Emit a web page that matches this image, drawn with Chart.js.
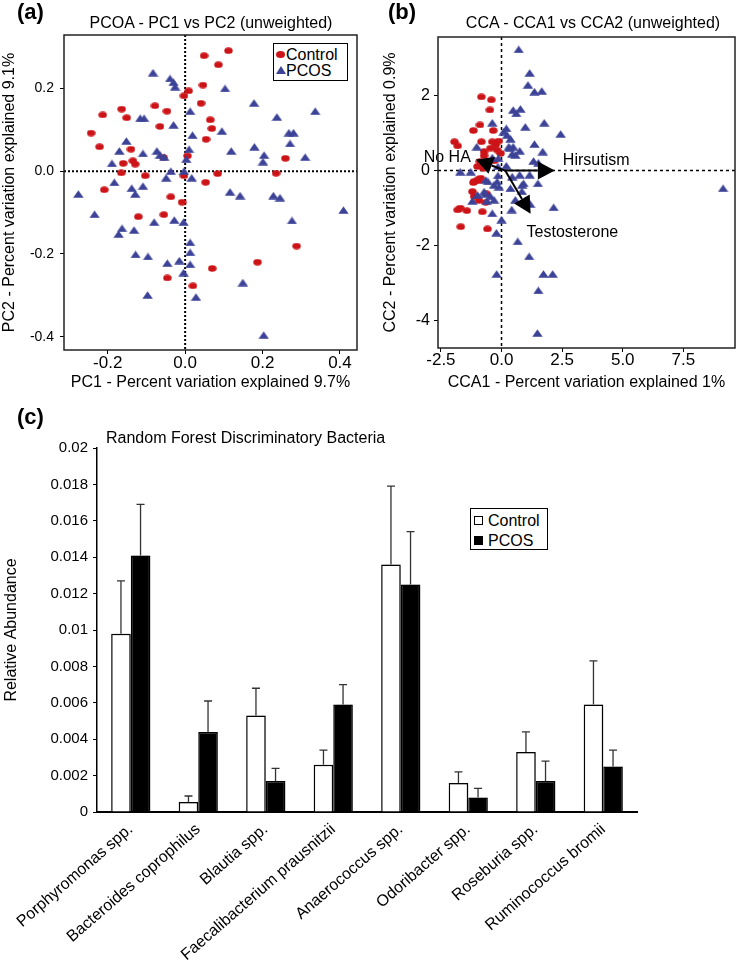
<!DOCTYPE html>
<html>
<head>
<meta charset="utf-8">
<title>PCOS gut microbiome figure</title>
<script src="https://cdn.jsdelivr.net/npm/chart.js@4.4.1/dist/chart.umd.min.js"></script>
<style>
  body { margin: 0; background: #fff; }
  #page { position: relative; width: 741px; height: 962px; overflow: hidden;
          font-family: 'Liberation Sans', Arial, sans-serif; color: #000; }
  canvas { position: absolute; }
  .txt { position: absolute; white-space: nowrap; }
  .panel { font-weight: bold; font-size: 22px; line-height: 22px; }
  .ttl { font-size: 16px; line-height: 20px; text-align: center; }
  .legend { position: absolute; box-sizing: border-box; border: 1.5px solid #000; background: #fff;
            font-size: 16px; line-height: 16px; }
  .legend span { position: absolute; white-space: nowrap; }
</style>
</head>
<body>
<div id="page">
  <canvas id="pcoa" style="left:0;top:0" width="370" height="395"></canvas>
  <canvas id="cca" style="left:370px;top:0" width="371" height="395"></canvas>
  <canvas id="forest" style="left:0;top:395px" width="741" height="567"></canvas>

  <div class="txt panel" style="left:17px;top:1px">(a)</div>
  <div class="txt panel" style="left:388px;top:1px">(b)</div>
  <div class="txt panel" style="left:17px;top:406px">(c)</div>

  <div class="txt ttl" style="left:60px;top:13px;width:302px">PCOA - PC1 vs PC2 (unweighted)</div>
  <div class="txt ttl" style="left:442px;top:13px;width:302px">CCA - CCA1 vs CCA2 (unweighted)</div>
  <div class="txt ttl" style="left:106px;top:428px;text-align:left">Random Forest Discriminatory Bacteria</div>

  <div class="legend" style="left:273px;top:43px;width:75px;height:38px">
    <span style="left:2px;top:7px;width:9px;height:7px;border-radius:50%;background:#cc1418"></span>
    <span style="left:12px;top:3px">Control</span>
    <span style="left:2px;top:22px;width:0;height:0;border-left:5px solid transparent;border-right:5px solid transparent;border-bottom:8px solid #3c4397"></span>
    <span style="left:12px;top:19px">PCOS</span>
  </div>

  <div class="legend" style="left:470px;top:508px;width:78px;height:42px">
    <span style="left:3px;top:7px;width:7px;height:7px;border:1px solid #000;background:#fff"></span>
    <span style="left:17px;top:4px">Control</span>
    <span style="left:3px;top:27px;width:9px;height:9px;background:#000"></span>
    <span style="left:17px;top:24px">PCOS</span>
  </div>
</div>

<script>
// Figure: (a) PCoA scatter, (b) CCA scatter with trait arrows, (c) random forest bar chart.

// ---- panel (a): PCoA coordinates [PC1, PC2]
const pcoaControl = [
  [0.112, 0.291], [0.049, 0.279], [0.086, 0.257], [0.046, 0.208], [0.009, 0.194], [-0.003, 0.182],
  [0.041, 0.164], [-0.078, 0.158], [-0.047, 0.145], [-0.164, 0.150], [-0.213, 0.136], [-0.151, 0.129],
  [0.065, 0.124], [-0.065, 0.108], [0.069, 0.103], [-0.243, 0.092], [0.054, 0.077], [-0.221, 0.059],
  [-0.140, 0.053], [-0.135, 0.025], [-0.160, 0.019], [-0.129, 0.017], [0.006, 0.037], [0.259, 0.031],
  [0.235, -0.005], [0.084, -0.006], [-0.003, -0.011], [-0.103, -0.011], [-0.165, -0.004], [0.053, -0.027],
  [-0.209, -0.045], [-0.056, 0.033], [-0.037, -0.062], [-0.008, -0.075], [-0.121, -0.110], [-0.055, -0.105],
  [0.288, -0.181], [0.187, -0.220], [0.070, -0.235], [-0.046, -0.258], [0.020, -0.277]
];
const pcoaPcos = [
  [-0.083, 0.238], [-0.039, 0.224], [-0.030, 0.215], [-0.026, 0.204], [0.103, 0.200], [0.178, 0.165],
  [0.336, 0.145], [0.237, 0.131], [0.013, 0.145], [-0.116, 0.128], [-0.106, 0.128], [-0.030, 0.112],
  [0.095, 0.097], [0.019, 0.087], [0.268, 0.093], [0.280, 0.093], [0.271, 0.067], [-0.152, 0.073],
  [-0.170, 0.049], [-0.109, 0.043], [-0.073, 0.049], [-0.065, 0.039], [-0.054, 0.034], [0.010, 0.053],
  [0.003, 0.029], [0.119, 0.049], [0.179, 0.059], [0.204, 0.039], [0.201, 0.023], [0.310, 0.034],
  [-0.189, 0.019], [-0.037, 0.000], [-0.003, 0.000], [-0.049, -0.016], [0.017, -0.016], [-0.183, -0.027],
  [-0.138, -0.041], [-0.109, -0.036], [-0.276, -0.055], [-0.129, -0.055], [0.116, -0.050], [0.142, -0.059],
  [0.228, -0.059], [0.245, -0.064], [0.409, -0.094], [-0.234, -0.104], [-0.080, -0.123], [-0.028, -0.118],
  [-0.004, -0.123], [0.276, -0.119], [-0.163, -0.138], [-0.132, -0.142], [-0.172, -0.152], [0.013, -0.172],
  [0.013, -0.196], [-0.128, -0.201], [-0.096, -0.206], [-0.046, -0.222], [-0.015, -0.216], [0.013, -0.225],
  [-0.004, -0.245], [0.149, -0.269], [-0.097, -0.299], [0.028, -0.304], [0.203, -0.396]
];
const pcoaXTicks = [-0.2, 0, 0.2, 0.4];
const pcoaYTicks = [-0.4, -0.2, 0, 0.2];

// ---- panel (b): CCA coordinates [CCA1, CCA2]
const ccaControl = [
  [-0.83, 1.97], [-0.42, 1.89], [-0.48, 1.62], [-0.89, 1.22], [-1.16, 1.07], [-0.34, 1.07], [-1.94, 0.77],
  [-1.81, 0.66], [-0.83, 0.77], [-0.38, 0.77], [-0.24, 0.69], [-0.11, 0.79], [-0.45, 0.60], [-0.72, 0.51],
  [-0.18, 0.55], [-0.04, 0.46], [-0.72, 0.40], [-0.31, 0.26], [-0.89, 0.24], [-0.99, 0.11], [-0.75, 0.06],
  [-0.86, -0.20], [-0.93, -0.27], [-1.13, -0.29], [-0.99, -0.25], [-1.16, -0.32], [-1.20, -0.56], [-0.62, -0.62],
  [-1.13, -0.69], [-0.65, -0.85], [-0.93, -0.80], [-1.70, -1.00], [-1.43, -1.07], [-1.81, -1.05], [-0.79, -1.10],
  [-1.68, -1.50], [-0.58, -1.56]
];
const ccaPcos = [
  [0.71, 3.24], [1.16, 2.61], [1.09, 2.29], [1.36, 2.11], [1.66, 2.13], [0.48, 1.62], [0.78, 1.65], [0.61, 1.53],
  [-0.38, 1.28], [0.98, 1.17], [1.76, 1.28], [2.44, 0.98], [0.20, 1.13], [0.09, 1.04], [0.23, 0.95], [1.36, 0.71],
  [-1.02, 0.64], [0.30, 0.64], [0.48, 0.64], [0.57, 0.42], [1.70, 0.51], [1.32, 0.26], [0.20, 0.13], [-1.70, -0.03],
  [-1.27, -0.03], [9.14, -0.47], [0.37, 0.85], [0.34, 0.60], [0.75, 0.53], [0.44, 0.45], [-0.38, 0.35], [-0.13, 0.33],
  [-0.15, 0.11], [0.75, -0.11], [1.16, -0.11], [0.44, -0.16], [-0.15, -0.13], [-0.56, -0.29], [-0.31, -0.38],
  [-0.11, -0.43], [0.91, -0.34], [0.37, -0.47], [0.84, -0.55], [-0.72, -0.56], [1.52, 0.21], [-0.65, -0.25],
  [-0.18, -0.29], [1.50, -0.34], [0.85, -0.38], [-0.99, -0.65], [-0.45, -0.69], [-0.61, -0.81], [-1.20, -0.81],
  [0.57, -0.78], [1.18, -0.89], [2.15, -0.98], [0.42, -1.04], [0.00, -1.31], [-0.21, -1.66], [0.67, -1.89],
  [1.14, -2.29], [-0.20, -2.76], [1.73, -2.76], [2.11, -2.76], [1.52, -3.20], [1.48, -4.34], [-0.65, -0.62],
  [-0.31, -0.78], [-0.38, -1.14]
];
const ccaXTicks = [-2.5, 0, 2.5, 5, 7.5];
const ccaYTicks = [-4, -2, 0, 2];
// trait arrows: shared origin and tips
const arrowOrigin = [0.15, 0];
const arrowNames = ['No HA', 'Hirsutism', 'Testosterone'];
const arrowTips = [[-1.06, 0.30], [2.2, 0], [1.2, -1.15]];

// ---- panel (c): relative abundance
const bacteria = ['Porphyromonas spp.', 'Bacteroides coprophilus', 'Blautia spp.', 'Faecalibacterium prausnitzii',
  'Anaerococcus spp.', 'Odoribacter spp.', 'Roseburia spp.', 'Ruminococcus bromii'];
const controlMean = [0.0098, 0.00055, 0.0053, 0.0026, 0.0136, 0.0016, 0.0033, 0.0059];
const controlErr = [0.0029, 0.00033, 0.0015, 0.0008, 0.0043, 0.0006, 0.0011, 0.0024];
const pcosMean = [0.0141, 0.0044, 0.0017, 0.0059, 0.0125, 0.0008, 0.0017, 0.0025];
const pcosErr = [0.0028, 0.0017, 0.0007, 0.0011, 0.0029, 0.0005, 0.0011, 0.0009];
const abundanceTicks = [0, 0.002, 0.004, 0.006, 0.008, 0.01, 0.012, 0.014, 0.016, 0.018, 0.02];

const RED = '#cc1418';
const BLUE = '#3c4397';

Chart.defaults.font.family = "'Liberation Sans', Arial, sans-serif";
Chart.defaults.color = '#000';

// marker images (the original figure is slightly stretched sideways)
function ellipseMarker(color, w, h) {
  const c = document.createElement('canvas');
  c.width = w; c.height = h;
  const g = c.getContext('2d');
  g.fillStyle = color;
  g.beginPath();
  g.ellipse(w / 2, h / 2, w / 2 - 0.3, h / 2 - 0.3, 0, 0, Math.PI * 2);
  g.fill();
  return c;
}
function triangleMarker(color, w, h) {
  const c = document.createElement('canvas');
  c.width = w; c.height = h;
  const g = c.getContext('2d');
  g.fillStyle = color;
  g.beginPath();
  g.moveTo(w / 2, 0.3);
  g.lineTo(w - 0.3, h - 0.3);
  g.lineTo(0.3, h - 0.3);
  g.closePath();
  g.fill();
  return c;
}
const redDot = ellipseMarker(RED, 9, 7);
const blueTri = triangleMarker(BLUE, 11, 8);

const toXY = (pts) => pts.map(([x, y]) => ({ x, y }));
const fixTicks = (list) => (scale) => { scale.ticks = list.map((v) => ({ value: v })); };

// box around the plot and dotted zero lines
const frame = {
  id: 'frame',
  beforeDatasetsDraw(chart, args, opts) {
    const { ctx, chartArea: a, scales: { x, y } } = chart;
    const x0 = x.getPixelForValue(0);
    const y0 = y.getPixelForValue(0);
    ctx.save();
    ctx.strokeStyle = '#000';
    ctx.lineWidth = opts.width;
    ctx.setLineDash(opts.dash);
    ctx.beginPath();
    ctx.moveTo(a.left, y0); ctx.lineTo(a.right, y0);
    ctx.moveTo(x0, a.top); ctx.lineTo(x0, a.bottom);
    ctx.stroke();
    ctx.restore();
  },
  afterDraw(chart) {
    const { ctx, chartArea: a } = chart;
    ctx.save();
    ctx.strokeStyle = '#222';
    ctx.lineWidth = 1.5;
    ctx.strokeRect(a.left, a.top, a.right - a.left, a.bottom - a.top);
    ctx.restore();
  }
};

// CCA trait arrows with labels
const traitArrows = {
  id: 'traitArrows',
  afterDatasetsDraw(chart) {
    const { ctx, scales: { x, y } } = chart;
    const ox = x.getPixelForValue(arrowOrigin[0]);
    const oy = y.getPixelForValue(arrowOrigin[1]);
    ctx.save();
    ctx.fillStyle = '#000';
    ctx.strokeStyle = '#000';
    ctx.lineWidth = 2;
    ctx.font = "16px 'Liberation Sans', Arial, sans-serif";
    arrowTips.forEach(([tx, ty], i) => {
      const px = x.getPixelForValue(tx);
      const py = y.getPixelForValue(ty);
      const ang = Math.atan2(py - oy, px - ox);
      const len = 17, half = 9;
      const bx = px - len * Math.cos(ang), by = py - len * Math.sin(ang);
      ctx.beginPath();
      ctx.moveTo(ox, oy); ctx.lineTo(bx, by);
      ctx.stroke();
      ctx.beginPath();
      ctx.moveTo(px, py);
      ctx.lineTo(bx + half * Math.sin(ang), by - half * Math.cos(ang));
      ctx.lineTo(bx - half * Math.sin(ang), by + half * Math.cos(ang));
      ctx.closePath();
      ctx.fill();
      ctx.textBaseline = 'middle';
      if (i === 0) { ctx.textAlign = 'right'; ctx.fillText(arrowNames[i], px - 5, py - 2); }
      if (i === 1) { ctx.textAlign = 'left'; ctx.fillText(arrowNames[i], px + 8, py - 10); }
      if (i === 2) { ctx.textAlign = 'left'; ctx.fillText(arrowNames[i], px - 4, py + 19); }
    });
    ctx.restore();
  }
};

function scatterScale(opts) {
  return {
    type: 'linear',
    min: opts.min,
    max: opts.max,
    afterBuildTicks: fixTicks(opts.ticks),
    afterFit: opts.fit,
    ticks: { font: { size: opts.tickSize, lineHeight: 1 }, padding: opts.tickPad, callback: opts.fmt },
    grid: { drawOnChartArea: false, tickLength: 4, color: '#000' },
    border: { display: false },
    title: { display: true, text: opts.title, font: { size: 16 }, padding: opts.titlePad }
  };
}

// ---- (a) PCoA
new Chart(document.getElementById('pcoa'), {
  type: 'scatter',
  data: {
    datasets: [
      { label: 'Control', data: toXY(pcoaControl), pointStyle: redDot, pointRadius: 5, order: 2 },
      { label: 'PCOS', data: toXY(pcoaPcos), pointStyle: blueTri, pointRadius: 5, order: 1 }
    ]
  },
  options: {
    responsive: false,
    animation: false,
    events: [],
    layout: { padding: { top: 35, right: 13, left: 0, bottom: 0 } },
    plugins: { legend: { display: false }, tooltip: { enabled: false }, frame: { width: 2, dash: [2, 2] } },
    scales: {
      x: scatterScale({
        min: -0.313, max: 0.444, ticks: pcoaXTicks, tickSize: 17, tickPad: 1,
        fit: (s) => { s.height = 45; }, fmt: (v) => v.toFixed(1),
        title: 'PC1 - Percent variation explained 9.7%', titlePad: { top: 0, bottom: 3 }
      }),
      y: scatterScale({
        min: -0.432, max: 0.329, ticks: pcoaYTicks, tickSize: 14, tickPad: 6,
        fit: (s) => { s.width = 64; }, fmt: (v) => v.toFixed(1),
        title: 'PC2 - Percent variation explained 9.1%', titlePad: { top: 0, bottom: 0 }
      })
    }
  },
  plugins: [frame]
});

// ---- (b) CCA
new Chart(document.getElementById('cca'), {
  type: 'scatter',
  data: {
    datasets: [
      { label: 'Control', data: toXY(ccaControl), pointStyle: redDot, pointRadius: 5, order: 2 },
      { label: 'PCOS', data: toXY(ccaPcos), pointStyle: blueTri, pointRadius: 5, order: 1 }
    ]
  },
  options: {
    responsive: false,
    animation: false,
    events: [],
    layout: { padding: { top: 37, right: 3, left: 0, bottom: 0 } },
    plugins: { legend: { display: false }, tooltip: { enabled: false }, frame: { width: 1.5, dash: [3, 3] } },
    scales: {
      x: scatterScale({
        min: -2.62, max: 9.63, ticks: ccaXTicks, tickSize: 17, tickPad: 0,
        fit: (s) => { s.height = 47; }, fmt: (v) => v.toFixed(1),
        title: 'CCA1 - Percent variation explained 1%', titlePad: { top: 0, bottom: 3 }
      }),
      y: scatterScale({
        min: -4.74, max: 3.57, ticks: ccaYTicks, tickSize: 16, tickPad: 4,
        fit: (s) => { s.width = 68; }, fmt: (v) => String(v),
        title: 'CC2 - Percent variation explained 0.9%', titlePad: { top: 11, bottom: 0 }
      })
    }
  },
  plugins: [frame, traitArrows]
});

// ---- (c) bar chart with upper error bars
const errorBars = {
  id: 'errorBars',
  afterDatasetsDraw(chart) {
    const { ctx, scales: { y } } = chart;
    const errs = [controlErr, pcosErr];
    const means = [controlMean, pcosMean];
    ctx.save();
    ctx.strokeStyle = '#333';
    ctx.lineWidth = 1.3;
    chart.data.datasets.forEach((ds, i) => {
      chart.getDatasetMeta(i).data.forEach((bar, j) => {
        const top = y.getPixelForValue(means[i][j] + errs[i][j]);
        ctx.beginPath();
        ctx.moveTo(bar.x, bar.y);
        ctx.lineTo(bar.x, top);
        ctx.moveTo(bar.x - 4, top);
        ctx.lineTo(bar.x + 4, top);
        ctx.stroke();
      });
    });
    ctx.restore();
  }
};
const barShadow = {
  id: 'barShadow',
  beforeDatasetDraw(chart) {
    const c = chart.ctx;
    c.save();
    c.shadowColor = 'rgba(0,0,0,0.3)';
    c.shadowBlur = 3;
    c.shadowOffsetX = 2;
  },
  afterDatasetDraw(chart) {
    chart.ctx.restore();
  }
};

new Chart(document.getElementById('forest'), {
  type: 'bar',
  data: {
    labels: bacteria,
    datasets: [
      { label: 'Control', data: controlMean, backgroundColor: '#fff', borderColor: '#000', borderWidth: 1.5 },
      { label: 'PCOS', data: pcosMean, backgroundColor: '#000', borderColor: '#000', borderWidth: 1.5 }
    ]
  },
  options: {
    responsive: false,
    animation: false,
    events: [],
    layout: { padding: { top: 53, right: 104, left: 0, bottom: 0 } },
    datasets: { bar: { categoryPercentage: 0.58, barPercentage: 1 } },
    plugins: { legend: { display: false }, tooltip: { enabled: false } },
    scales: {
      x: {
        afterFit: (s) => { s.height = 150; },
        grid: { display: false, drawTicks: false },
        border: { display: true, color: '#000', width: 2 },
        ticks: { autoSkip: false, minRotation: 41, maxRotation: 41, padding: 8, font: { size: 16 } }
      },
      y: {
        min: 0,
        max: 0.02,
        afterBuildTicks: fixTicks(abundanceTicks),
        afterFit: (s) => { s.width = 97; },
        ticks: { font: { size: 15 }, padding: 5, callback: (v) => String(parseFloat(v.toFixed(3))) },
        grid: { drawOnChartArea: false, tickLength: 4, color: '#000' },
        border: { color: '#000', width: 1.5 },
        title: { display: true, text: 'Relative Abundance', font: { size: 16 }, padding: { top: 2, bottom: 0 } }
      }
    }
  },
  plugins: [barShadow, errorBars]
});
</script>
</body>
</html>
